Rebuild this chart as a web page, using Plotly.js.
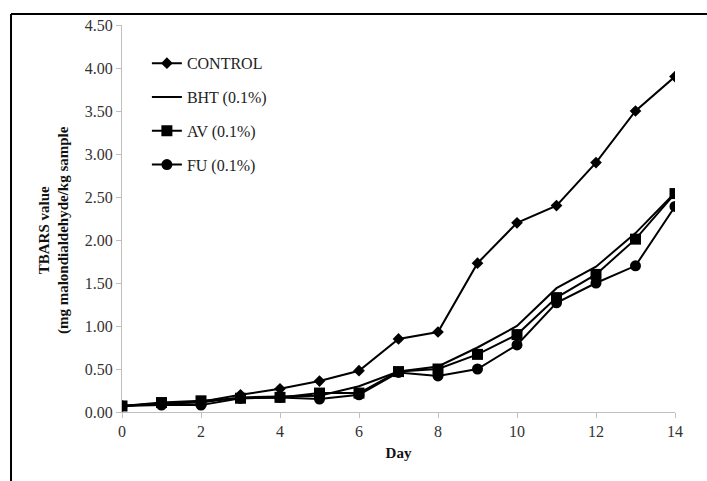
<!DOCTYPE html>
<html>
<head>
<meta charset="utf-8">
<script src="https://cdn.plot.ly/plotly-3.0.1.min.js"></script>
<style>html,body{margin:0;padding:0;background:#fff;}#chart{width:707px;height:481px;}</style>
</head>
<body>
<div id="chart"></div>
<script>
const days = [0,1,2,3,4,5,6,7,8,9,10,11,12,13,14];
const seriesNames = ["CONTROL","BHT (0.1%)","AV (0.1%)","FU (0.1%)"];
const control = [0.07,0.10,0.12,0.20,0.27,0.36,0.48,0.85,0.93,1.73,2.20,2.40,2.90,3.50,3.90];
const bht     = [0.07,0.10,0.11,0.17,0.18,0.19,0.30,0.47,0.53,0.75,1.00,1.44,1.69,2.08,2.55];
const av      = [0.07,0.11,0.13,0.16,0.17,0.22,0.22,0.47,0.50,0.67,0.90,1.33,1.60,2.01,2.54];
const fu      = [0.07,0.08,0.08,0.16,0.17,0.15,0.20,0.46,0.42,0.50,0.78,1.27,1.50,1.70,2.39];
const yTicks = [0,0.5,1,1.5,2,2.5,3,3.5,4,4.5];
const xTicks = [0,2,4,6,8,10,12,14];
const yTitle = "<b>TBARS value</b><br><b>(mg malondialdehyde/kg sample</b>";

const FONT = "Liberation Serif";
const seriesValues = [control, bht, av, fu];
const symbols = ["diamond", null, "square", "circle"];
const sizes = [9, 0, 11, 11];

const traces = seriesValues.map((vals, i) => {
  const t = {
    x: days, y: vals, name: seriesNames[i], type: "scatter",
    mode: symbols[i] ? "lines+markers" : "lines",
    line: {color: "#000", width: 2},
    legendgroup: "g" + i
  };
  if (symbols[i]) t.marker = {symbol: symbols[i], size: sizes[i], color: "#000"};
  return t;
});

const layout = {
  width: 707, height: 481,
  margin: {l: 122, r: 32, t: 25, b: 69},
  paper_bgcolor: "#fff", plot_bgcolor: "#fff",
  font: {family: FONT, size: 16, color: "#222"},
  showlegend: true,
  legend: {
    x: 0.045, y: 0.945, xanchor: "left", yanchor: "top",
    bgcolor: "rgba(0,0,0,0)", font: {family: FONT, size: 16, color: "#222"},
    traceorder: "grouped", tracegroupgap: 10
  },
  xaxis: {
    range: [0, 14], tickvals: xTicks, ticktext: xTicks.map(String),
    showgrid: false, zeroline: false, showline: true, linecolor: "#bfbfbf", linewidth: 1,
    ticks: "outside", ticklen: 5, tickcolor: "#bfbfbf",
    tickfont: {family: FONT, size: 16, color: "#333"},
    title: {text: "<b>Day</b>", font: {family: FONT, size: 15, color: "#111"}, standoff: 8}
  },
  yaxis: {
    range: [0, 4.5], tickvals: yTicks, ticktext: yTicks.map(v => v.toFixed(2)),
    showgrid: false, zeroline: false, showline: true, linecolor: "#bfbfbf", linewidth: 1,
    ticks: "outside", ticklen: 5, tickcolor: "#bfbfbf",
    tickfont: {family: FONT, size: 16, color: "#333"}
  },
  annotations: [
    {text: yTitle, xref: "paper", yref: "paper", x: -0.123, y: 0.47, xanchor: "center", yanchor: "middle",
     textangle: -90, showarrow: false, font: {family: FONT, size: 15, color: "#111"}}
  ],
  shapes: [
    {type: "line", xref: "paper", yref: "paper", x0: -0.2007, x1: -0.2007, y0: 1.0284, y1: -0.2, line: {color: "#000", width: 2}},
    {type: "line", xref: "paper", yref: "paper", x0: -0.2007, x1: 1.06, y0: 1.0284, y1: 1.0284, line: {color: "#000", width: 2}}
  ]
};

Plotly.newPlot("chart", traces, layout, {staticPlot: true, displayModeBar: false});
</script>
</body>
</html>
